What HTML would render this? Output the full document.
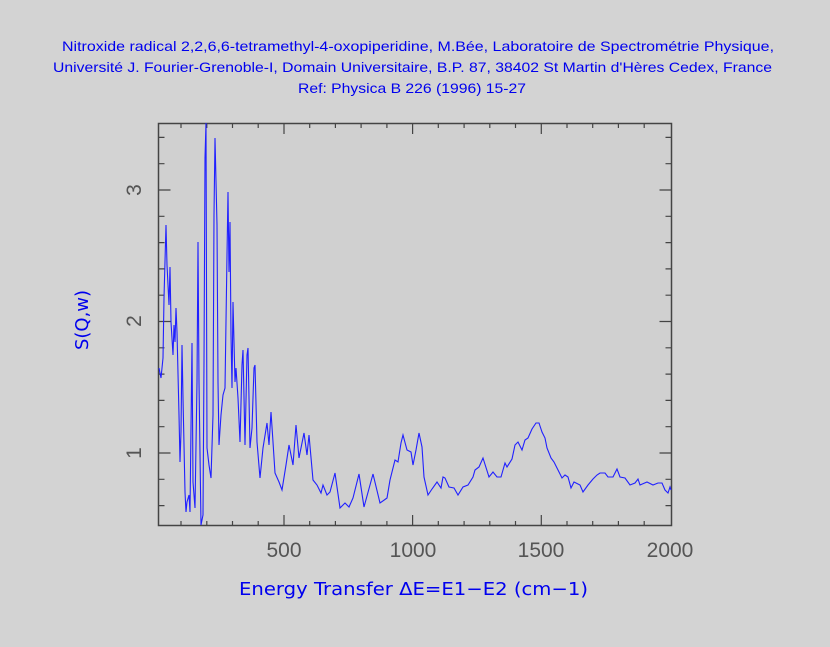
<!DOCTYPE html>
<html><head><meta charset="utf-8"><style>
html,body{margin:0;padding:0;background:#d3d3d3;}
svg{display:block;}
</style></head><body>
<svg width="830" height="647" viewBox="0 0 830 647" xmlns="http://www.w3.org/2000/svg">
<rect width="830" height="647" fill="#d3d3d3"/>
<g font-family="Liberation Sans, sans-serif" font-size="14" fill="#0000ee">
<text x="62" y="51" textLength="712" lengthAdjust="spacingAndGlyphs">Nitroxide radical 2,2,6,6-tetramethyl-4-oxopiperidine, M.Bée, Laboratoire de Spectrométrie Physique,</text>
<text x="53" y="72" textLength="719" lengthAdjust="spacingAndGlyphs">Université J. Fourier-Grenoble-I, Domain Universitaire, B.P. 87, 38402 St Martin d'Hères Cedex, France</text>
<text x="298" y="93" textLength="228" lengthAdjust="spacingAndGlyphs">Ref: Physica B 226 (1996) 15-27</text>
</g>
<rect x="158.5" y="123.5" width="513" height="402" fill="#d0d0d0" stroke="#444" stroke-width="1.5"/>
<path stroke="#444" stroke-width="1.2" fill="none" d="
M181,526v-5M206.8,526v-5M232.5,526v-5M258.2,526v-5M284,526v-11M309.7,526v-5M335.4,526v-5M361.1,526v-5M386.9,526v-5M412.6,526v-11M438.3,526v-5M464.1,526v-5M489.8,526v-5M515.5,526v-5M541.3,526v-11M567,526v-5M592.7,526v-5M618.4,526v-5M644.2,526v-5
M181,123v5M206.8,123v5M232.5,123v5M258.2,123v5M284,123v11M309.7,123v5M335.4,123v5M361.1,123v5M386.9,123v5M412.6,123v11M438.3,123v5M464.1,123v5M489.8,123v5M515.5,123v5M541.3,123v11M567,123v5M592.7,123v5M618.4,123v5M644.2,123v5
M158.5,505.6h6M158.5,479.3h6M158.5,453h12M158.5,426.7h6M158.5,400.4h6M158.5,374.1h6M158.5,347.8h6M158.5,321.5h12M158.5,295.2h6M158.5,268.9h6M158.5,242.6h6M158.5,216.3h6M158.5,190h12M158.5,163.7h6M158.5,137.4h6
M671.5,505.6h-6M671.5,479.3h-6M671.5,453h-12M671.5,426.7h-6M671.5,400.4h-6M671.5,374.1h-6M671.5,347.8h-6M671.5,321.5h-12M671.5,295.2h-6M671.5,268.9h-6M671.5,242.6h-6M671.5,216.3h-6M671.5,190h-12M671.5,163.7h-6M671.5,137.4h-6"/>
<polyline fill="none" stroke="#2020ff" stroke-width="1.1" points="
159,368 161,378 163,358 164,298 166,225 167,265 169,305 170,267 171,322 173,355 174,325 175,342 176,308 177,332 179,415 180,462 181,432 182,345 183,398 185,492 186,512 187,502 189,495 190,512 192,343 193,482 195,508 197,382 198,242 199,382 201,525 203,515 204,362 205,158 206,123 207,448 209,465 211,478 213,415 214,215 215,138 217,225 218,382 219,445 221,415 223,395 225,388 227,255 228,192 229,272 230,222 231,335 232,388 233,302 235,382 236,368 238,398 240,442 242,365 243,350 245,445 247,355 248,348 250,448 252,428 254,368 255,365 257,442 260,478 263,448 267,423 269,445 271,412 273,442 275,473 279,482 282,490 286,465 289,445 293,465 296,425 299,458 304,433 307,455 309,435 313,480 317,485 321,493 323,485 327,495 330,492 335,473 340,508 345,503 349,507 353,498 359,474 364,507 373,474 380,503 387,498 390,480 395,460 398,462 401,443 403,435 407,450 411,452 413,465 416,450 419,433 422,447 424,477 428,495 432,489 437,482 441,488 443,477 445,478 449,487 454,488 458,495 463,487 468,485 473,477 475,470 479,467 483,458 489,477 493,472 497,477 501,477 505,463 507,467 512,459 515,445 518,442 522,450 525,440 528,438 532,429 536,423 539,423 542,432 545,438 547,448 551,458 554,462 557,468 562,478 565,475 568,477 571,488 574,482 580,485 583,492 588,485 593,479 597,475 600,473 605,473 608,477 613,477 617,469 620,477 625,478 630,485 635,483 638,479 640,485 647,482 653,485 658,483 662,483 665,490 668,493 670,487 671,490"/>
<g font-family="Liberation Sans, DejaVu Sans, sans-serif" font-size="21" fill="#555" text-anchor="middle">
<text x="284" y="557">500</text>
<text x="413" y="557">1000</text>
<text x="541" y="557">1500</text>
<text x="670" y="557">2000</text>
<text transform="translate(141,190) rotate(-90)">3</text>
<text transform="translate(141,321) rotate(-90)">2</text>
<text transform="translate(141,453) rotate(-90)">1</text>
</g>
<g font-family="DejaVu Sans, Liberation Sans, sans-serif" font-size="18" fill="#0000ee">
<text x="239" y="595" textLength="349" lengthAdjust="spacingAndGlyphs">Energy Transfer ΔE=E1−E2 (cm−1)</text>
<text transform="translate(88,350) rotate(-90)" textLength="60" lengthAdjust="spacingAndGlyphs">S(Q,w)</text>
</g>
</svg>
</body></html>
